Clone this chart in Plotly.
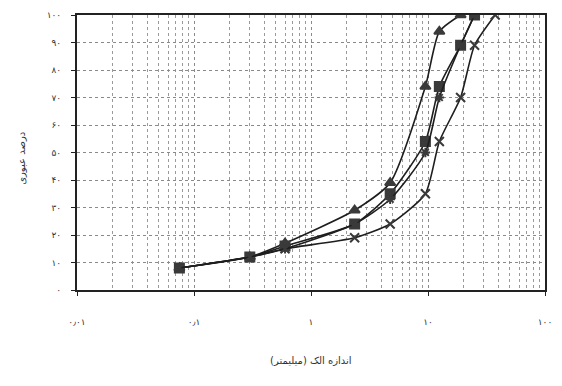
import plotly.graph_objects as go

# Sieve sizes (mm) and percent passing for each grading curve
sieve_mm = [0.075, 0.3, 0.6, 2.36, 4.75, 9.5, 12.5, 19, 25, 37.5]

pass_a = [8, 12, 17, 29, 39, 74, 94, 100]
pass_b = [8, 12, 16, 24, 35, 54, 74, 89, 100]
pass_c = [8, 12, 15, 24, 33, 50, 70, 89, 100]
pass_d = [8, 12, 15, 19, 24, 35, 54, 70, 89, 100]

x_tick_vals = [0.01, 0.1, 1, 10, 100]
x_tick_text = ["۰٫۰۱", "۰٫۱", "۱", "۱۰", "۱۰۰"]
y_tick_vals = [0, 10, 20, 30, 40, 50, 60, 70, 80, 90, 100]
y_tick_text = ["۰", "۱۰", "۲۰", "۳۰", "۴۰", "۵۰", "۶۰", "۷۰", "۸۰", "۹۰", "۱۰۰"]

x_title = "اندازه الک (میلیمتر)"
y_title = "درصد عبوری"

LINE = "#1e1e1e"
MARK = "#3a3a3a"

series = [
    (pass_a, "triangle-up", 9),
    (pass_b, "square", 9),
    (pass_c, "asterisk-open", 8),
    (pass_d, "x-thin-open", 9),
]

fig = go.Figure()
for vals, sym, size in series:
    fig.add_trace(go.Scatter(
        x=sieve_mm[:len(vals)],
        y=vals,
        mode="lines+markers",
        line=dict(color=LINE, width=1.6, shape="spline", smoothing=0.6),
        marker=dict(symbol=sym, size=size, color=MARK,
                    line=dict(color=MARK, width=2)),
        showlegend=False,
    ))

grid = dict(gridcolor="#8a8a8a", griddash="dot", gridwidth=1)

fig.update_layout(
    width=562, height=386,
    margin=dict(l=77, r=13, t=10, b=96),
    paper_bgcolor="white", plot_bgcolor="white",
    font=dict(family="DejaVu Sans", size=9, color="#333"),
    xaxis=dict(
        type="log", range=[-2, 2],
        tickvals=x_tick_vals, ticktext=x_tick_text,
        ticks="outside", ticklen=4, tickcolor="#222",
        ticklabelstandoff=18,
        showline=True, linecolor="#222", linewidth=2, mirror=True,
        minor=dict(showgrid=True, gridcolor="#9a9a9a", griddash="dot",
                   dtick="D1"),
        **grid,
    ),
    yaxis=dict(
        range=[0, 100],
        tickvals=y_tick_vals, ticktext=y_tick_text,
        ticks="outside", ticklen=4, tickcolor="#222",
        ticklabelstandoff=8,
        showline=True, linecolor="#222", linewidth=2, mirror=True,
        zeroline=False,
        **grid,
    ),
    annotations=[
        dict(text=x_title, xref="paper", yref="paper", x=0.5, y=-0.285,
             showarrow=False, font=dict(size=10, color="#333")),
        dict(text=y_title, xref="paper", yref="paper", x=-0.12, y=0.48,
             xanchor="center", yanchor="middle",
             textangle=-90, showarrow=False, font=dict(size=10, color="#333")),
    ],
)

fig.write_html("out.html")
